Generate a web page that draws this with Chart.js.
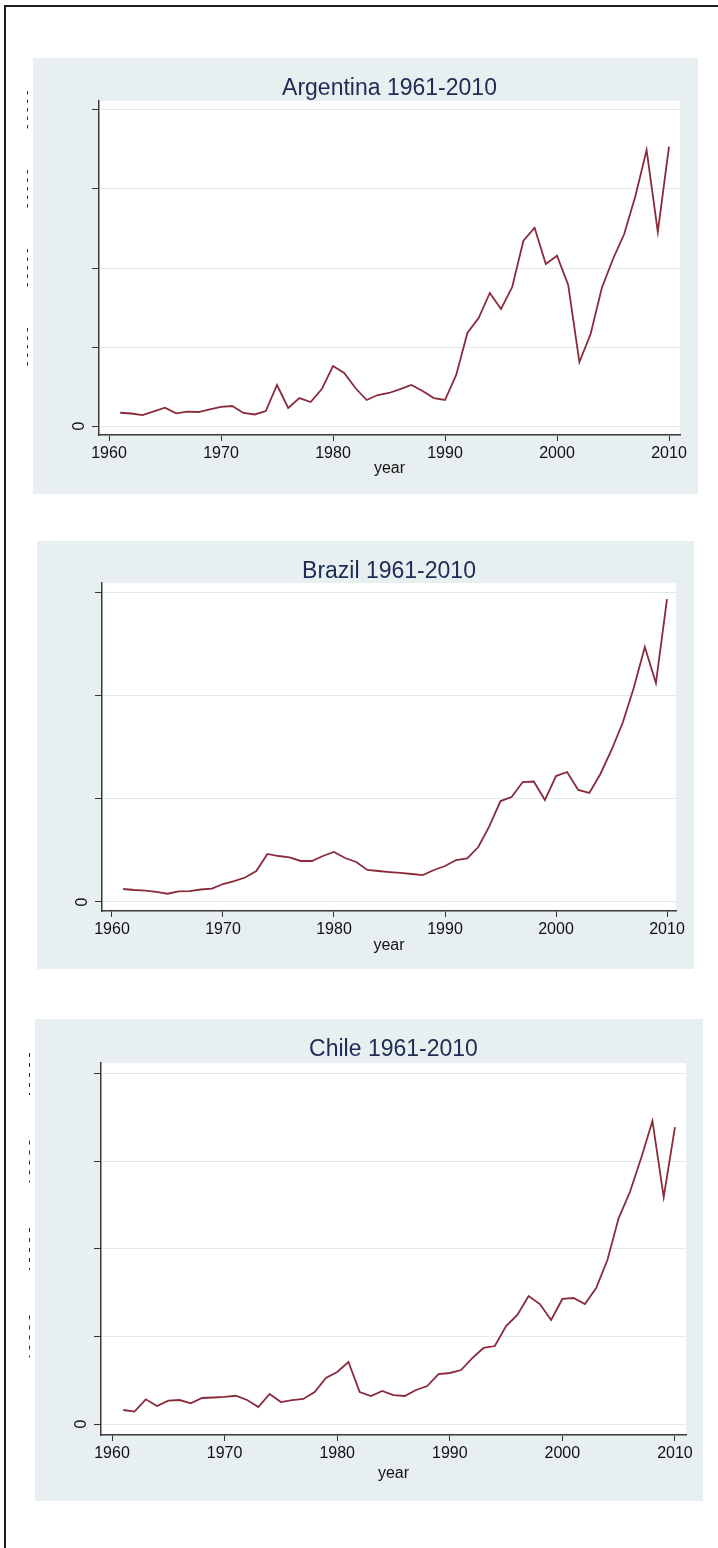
<!DOCTYPE html>
<html>
<head>
<meta charset="utf-8">
<script src="https://cdn.jsdelivr.net/npm/chart.js@4.4.1/dist/chart.umd.min.js"></script>
<style>
  html, body { margin: 0; padding: 0; background: #ffffff; width: 718px; height: 1548px; overflow: hidden; }
  .frame { position: absolute; left: 4px; top: 5px; width: 740px; height: 1570px; border: 2px solid #1e1e1e; box-sizing: border-box; }
  .panel { position: absolute; background: #e8eff1; }
  canvas { position: absolute; }
</style>
</head>
<body>
<div class="frame"></div>
<div id="root"></div>
<script>
// Years on the horizontal axis
const years = [1961, 1962, 1963, 1964, 1965, 1966, 1967, 1968, 1969, 1970,
               1971, 1972, 1973, 1974, 1975, 1976, 1977, 1978, 1979, 1980,
               1981, 1982, 1983, 1984, 1985, 1986, 1987, 1988, 1989, 1990,
               1991, 1992, 1993, 1994, 1995, 1996, 1997, 1998, 1999, 2000,
               2001, 2002, 2003, 2004, 2005, 2006, 2007, 2008, 2009, 2010];

// One series per country
const argentina = [1.68, 1.58, 1.39, 1.84, 2.32, 1.61, 1.81, 1.77, 2.09, 2.41,
                   2.53, 1.65, 1.46, 1.90, 5.19, 2.28, 3.54, 3.04, 4.68, 7.59,
                   6.71, 4.81, 3.29, 3.92, 4.18, 4.68, 5.19, 4.43, 3.54, 3.29,
                   6.46, 11.77, 13.67, 16.84, 14.81, 17.59, 23.46, 25.10, 20.51, 21.56,
                   17.85, 8.10, 11.65, 17.47, 21.14, 24.30, 29.11, 34.94, 24.56, 35.35];

const brazil = [1.26, 1.16, 1.11, 0.97, 0.80, 1.02, 1.06, 1.21, 1.29, 1.74,
                2.03, 2.37, 3.00, 4.65, 4.45, 4.31, 3.97, 3.97, 4.45, 4.84,
                4.26, 3.87, 3.10, 3.00, 2.90, 2.81, 2.71, 2.61, 3.10, 3.48,
                4.06, 4.21, 5.32, 7.35, 9.77, 10.16, 11.61, 11.66, 9.87, 12.19,
                12.58, 10.84, 10.55, 12.39, 14.71, 17.32, 20.71, 24.68, 21.19, 29.32];

const chile = [1.60, 1.41, 2.82, 2.06, 2.66, 2.74, 2.37, 2.97, 3.03, 3.09,
               3.23, 2.74, 1.94, 3.43, 2.51, 2.74, 2.86, 3.66, 5.26, 5.94,
               7.09, 3.66, 3.20, 3.77, 3.31, 3.20, 3.89, 4.34, 5.71, 5.83,
               6.17, 7.54, 8.69, 8.91, 11.20, 12.46, 14.63, 13.71, 11.89, 14.29,
               14.40, 13.71, 15.54, 18.74, 23.54, 26.51, 30.40, 34.63, 25.94, 33.94];

// Tick values
const yearTicks = [1960, 1970, 1980, 1990, 2000, 2010];
const argentinaTicks = [0, 10, 20, 30, 40];
const brazilTicks = [0, 10, 20, 30];
const chileTicks = [0, 10, 20, 30, 40];

const FONT = '"Liberation Sans", Arial, Helvetica, sans-serif';
const LINE_COLOR = '#8a2b3c';
const TITLE_COLOR = '#1d2b55';

// Panel geometry: outer graph region and inner plot region (page pixels)
const panels = [
  { title: 'Argentina 1961-2010', values: argentina, yTicks: argentinaTicks,
    box: { left: 33, top: 58, right: 698, bottom: 494 },
    plot: { left: 99, top: 101, right: 680, bottom: 435 },
    xRange: [1959.107, 2010.982], yRange: [-1.139, 41.139],
    stub: { x: 27, dash: 3.5, gap: 5, half: 19 }, yearPad: 16 },
  { title: 'Brazil 1961-2010', values: brazil, yTicks: brazilTicks,
    box: { left: 37, top: 541, right: 694, bottom: 969 },
    plot: { left: 102, top: 583, right: 676, bottom: 911 },
    xRange: [1959.1, 2010.81], yRange: [-0.871, 30.871],
    stub: null, yearPad: 14 },
  { title: 'Chile 1961-2010', values: chile, yTicks: chileTicks,
    box: { left: 35, top: 1019, right: 703, bottom: 1501 },
    plot: { left: 101, top: 1063, right: 686, bottom: 1435 },
    xRange: [1959.023, 2010.98], yRange: [-1.257, 41.257],
    stub: { x: 29, dash: 4, gap: 6, half: 21 }, yearPad: 18 }
];

// White plot region behind the line
const plotFill = {
  id: 'plotFill',
  beforeDraw(chart) {
    const a = chart.chartArea, ctx = chart.ctx;
    ctx.save();
    ctx.fillStyle = '#ffffff';
    ctx.fillRect(a.left, a.top, a.right - a.left, a.bottom - a.top);
    ctx.restore();
  }
};

// Clipped value labels left of the axis, shown as short dashed marks
const labelStubs = {
  id: 'labelStubs',
  afterDraw(chart, args, opts) {
    if (!opts || opts.x == null) return;
    const ys = chart.scales.y, ctx = chart.ctx;
    ctx.save();
    ctx.strokeStyle = '#333333';
    ctx.lineWidth = 1;
    ctx.setLineDash([opts.dash, opts.gap]);
    ys.ticks.forEach(t => {
      if (t.value === 0) return;
      const py = ys.getPixelForValue(t.value);
      ctx.beginPath();
      ctx.moveTo(opts.x + 0.5, py - opts.half);
      ctx.lineTo(opts.x + 0.5, py + opts.half);
      ctx.stroke();
    });
    ctx.restore();
  }
};

const root = document.getElementById('root');

panels.forEach(p => {
  const bg = document.createElement('div');
  bg.className = 'panel';
  bg.style.left = p.box.left + 'px';
  bg.style.top = p.box.top + 'px';
  bg.style.width = (p.box.right - p.box.left) + 'px';
  bg.style.height = (p.box.bottom - p.box.top) + 'px';
  root.appendChild(bg);

  const cLeft = p.box.left - 20;
  const cv = document.createElement('canvas');
  cv.width = p.box.right - cLeft;
  cv.height = p.box.bottom - p.box.top;
  cv.style.left = cLeft + 'px';
  cv.style.top = p.box.top + 'px';
  cv.style.width = cv.width + 'px';
  cv.style.height = cv.height + 'px';
  root.appendChild(cv);

  const titlePadTop = 19;
  const titlePadBottom = Math.max(0, p.plot.top - p.box.top - 23 - titlePadTop);
  const stubOpts = p.stub ? Object.assign({}, p.stub, { x: p.stub.x - cLeft }) : {};

  new Chart(cv, {
    type: 'line',
    data: {
      datasets: [{
        data: years.map((yr, i) => ({ x: yr, y: p.values[i] })),
        borderColor: LINE_COLOR,
        borderWidth: 1.8,
        pointRadius: 0,
        tension: 0,
        fill: false
      }]
    },
    options: {
      responsive: false,
      animation: false,
      devicePixelRatio: 1,
      layout: { padding: { left: 0, top: 0, bottom: 0, right: p.box.right - p.plot.right } },
      plugins: {
        legend: { display: false },
        tooltip: { enabled: false },
        title: {
          display: true,
          fullSize: false,
          text: p.title,
          color: TITLE_COLOR,
          font: { family: FONT, size: 23, weight: 'normal', lineHeight: 1 },
          padding: { top: titlePadTop, bottom: titlePadBottom }
        },
        labelStubs: stubOpts
      },
      scales: {
        x: {
          type: 'linear',
          min: p.xRange[0],
          max: p.xRange[1],
          afterBuildTicks: s => { s.ticks = yearTicks.map(v => ({ value: v })); },
          afterFit: s => { s.height = p.box.bottom - p.plot.bottom; },
          grid: { drawOnChartArea: false, drawTicks: true, tickLength: 6, tickColor: '#333333', tickWidth: 1 },
          border: { display: true, color: '#3a3a3a', width: 1.5 },
          ticks: { color: '#111111', font: { family: FONT, size: 16 }, padding: 3,
                   maxRotation: 0, autoSkip: false, callback: v => String(v) },
          title: { display: true, text: 'year', color: '#111111',
                   font: { family: FONT, size: 16 }, padding: { top: 0, bottom: p.yearPad } }
        },
        y: {
          type: 'linear',
          min: p.yRange[0],
          max: p.yRange[1],
          afterBuildTicks: s => { s.ticks = p.yTicks.map(v => ({ value: v })); },
          afterFit: s => { s.width = p.plot.left - cLeft; },
          grid: { color: '#e2eaee', lineWidth: 1, drawTicks: true, tickLength: 7, tickColor: '#333333', tickWidth: 1 },
          border: { display: true, color: '#3a3a3a', width: 1.5 },
          ticks: { minRotation: 90, maxRotation: 90, crossAlign: 'center', padding: 7.5,
                   autoSkip: false, color: '#111111', font: { family: FONT, size: 16 },
                   callback: v => (v === 0 ? '0' : '') }
        }
      }
    },
    plugins: [plotFill, labelStubs]
  });
});
</script>
</body>
</html>
